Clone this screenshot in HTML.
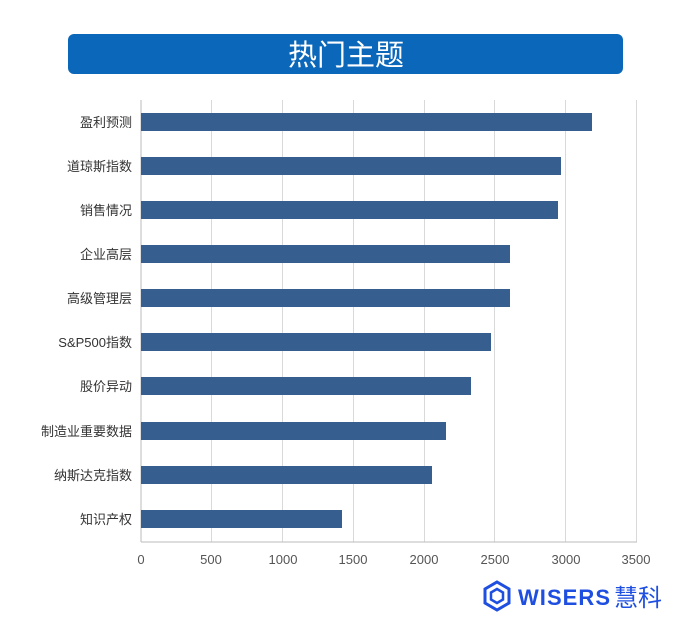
<!DOCTYPE html>
<html><head><meta charset="utf-8"><style>
body{margin:0;width:693px;height:631px;background:#fff;overflow:hidden;font-family:"Liberation Sans","Noto Sans CJK SC",sans-serif}
</style></head><body>
<svg width="693" height="631" xmlns="http://www.w3.org/2000/svg" style="position:absolute;left:0;top:0">
<rect x="68" y="34" width="555" height="40" rx="6" fill="#0b67b9"/>
<text x="346" y="65" text-anchor="middle" font-size="29" fill="#fff" font-family="Noto Sans CJK SC, sans-serif">热门主题</text>
<g stroke="#d9d9d9" stroke-width="1">
<line x1="211.5" y1="100" x2="211.5" y2="542"/><line x1="282.5" y1="100" x2="282.5" y2="542"/>
<line x1="353.5" y1="100" x2="353.5" y2="542"/><line x1="424.5" y1="100" x2="424.5" y2="542"/>
<line x1="494.5" y1="100" x2="494.5" y2="542"/><line x1="565.5" y1="100" x2="565.5" y2="542"/>
<line x1="636.5" y1="100" x2="636.5" y2="542"/>
</g>
<line x1="141" y1="100" x2="141" y2="542" stroke="#bbb"/>
<line x1="141" y1="542" x2="637" y2="542" stroke="#bbb"/>
<g fill="#365f8f">
<rect x="141" y="113" width="451" height="18"/>
<rect x="141" y="157" width="420" height="18"/>
<rect x="141" y="201" width="417" height="18"/>
<rect x="141" y="245" width="369" height="18"/>
<rect x="141" y="289" width="369" height="18"/>
<rect x="141" y="333" width="350" height="18"/>
<rect x="141" y="377" width="330" height="18"/>
<rect x="141" y="422" width="305" height="18"/>
<rect x="141" y="466" width="291" height="18"/>
<rect x="141" y="510" width="201" height="18"/>
</g>
<g font-size="13" fill="#333" text-anchor="end">
<text x="132" y="127">盈利预测</text>
<text x="132" y="171">道琼斯指数</text>
<text x="132" y="215">销售情况</text>
<text x="132" y="259">企业高层</text>
<text x="132" y="303">高级管理层</text>
<text x="132" y="347">S&amp;P500指数</text>
<text x="132" y="391">股价异动</text>
<text x="132" y="436">制造业重要数据</text>
<text x="132" y="480">纳斯达克指数</text>
<text x="132" y="524">知识产权</text>
</g>
<g font-size="13" fill="#555" text-anchor="middle">
<text x="141" y="564">0</text><text x="211" y="564">500</text><text x="283" y="564">1000</text>
<text x="353" y="564">1500</text><text x="424" y="564">2000</text><text x="495" y="564">2500</text>
<text x="566" y="564">3000</text><text x="636" y="564">3500</text>
</g>
<g transform="translate(497,596)" fill="none" stroke="#1f4fe0" stroke-width="3">
<polygon points="0,-14 12,-7 12,7 0,14 -12,7 -12,-7"/>
<polygon points="0,-7 6,-3.5 6,3.5 0,7 -6,3.5 -6,-3.5" stroke-width="2.5"/>
</g>
<text x="518" y="605" font-size="22" font-weight="bold" fill="#1f4fe0" textLength="92" lengthAdjust="spacing">WISERS</text>
<text x="614" y="606" font-size="24" fill="#1f4fe0" font-family="Noto Sans CJK SC, sans-serif">慧科</text>
</svg>
</body></html>
